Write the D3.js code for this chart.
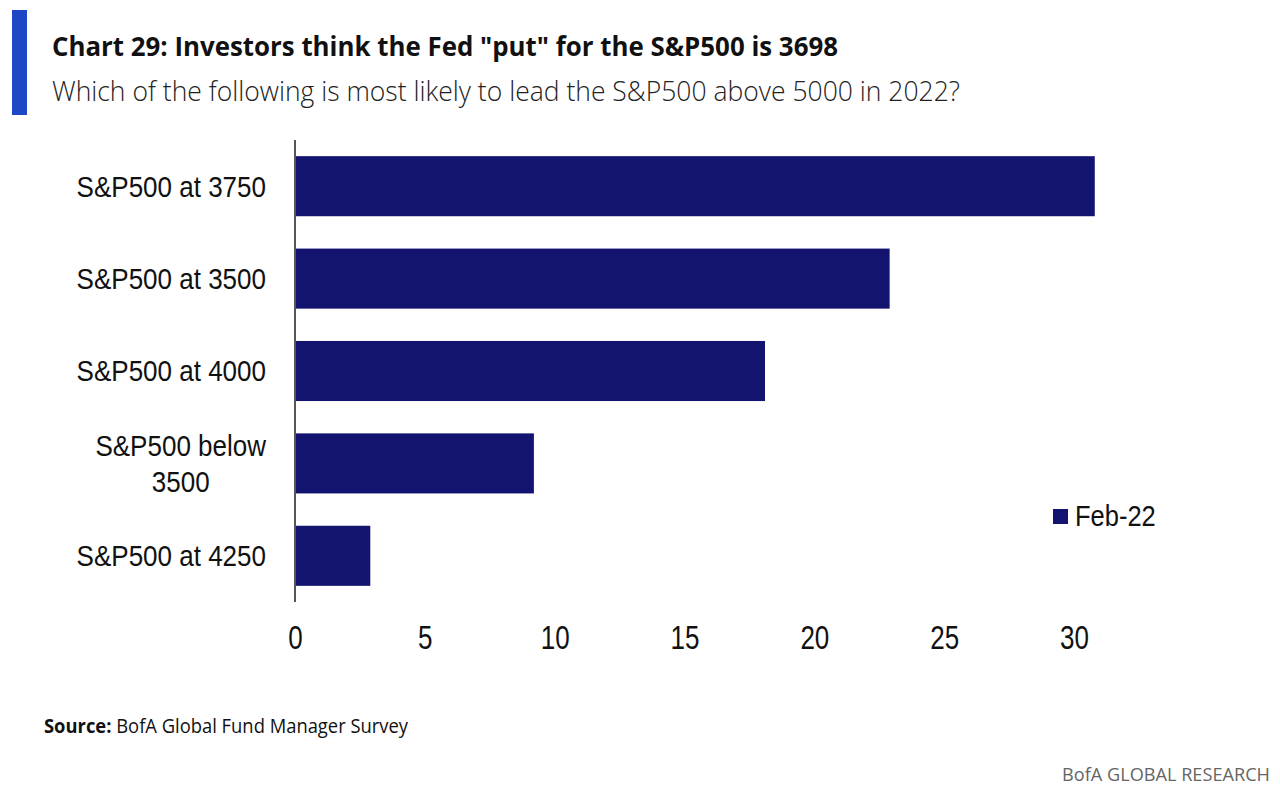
<!DOCTYPE html>
<html>
<head>
<meta charset="utf-8">
<script src="https://cdn.jsdelivr.net/npm/d3@7"></script>
<style>
  body { margin: 0; background: #fff; }
  svg { display: block; }
</style>
</head>
<body>
<div id="chart"></div>
<script>
// data
var categories = [["S&P500 at 3750"], ["S&P500 at 3500"], ["S&P500 at 4000"], ["S&P500 below", "3500"], ["S&P500 at 4250"]];
var values = [30.8, 22.9, 18.1, 9.2, 2.9];
var xTicks = [0, 5, 10, 15, 20, 25, 30];
var seriesName = "Feb-22";

var W = 1280, H = 791;
var barColor = "#13146f";
var axisFont = "'Liberation Sans', Arial, sans-serif";
var headFont = "'Open Sans', 'Noto Sans', sans-serif";

var svg = d3.select("#chart").append("svg")
    .attr("width", W)
    .attr("height", H);

// blue accent bar at left of header
svg.append("rect")
    .attr("x", 12).attr("y", 10)
    .attr("width", 15).attr("height", 105)
    .attr("fill", "#1e47c6");

svg.append("text")
    .attr("x", 52).attr("y", 56)
    .attr("font-family", headFont)
    .attr("font-weight", 700)
    .attr("font-size", 26)
    .attr("fill", "#111")
    .attr("textLength", 786).attr("lengthAdjust", "spacingAndGlyphs")
    .text('Chart 29: Investors think the Fed "put" for the S&P500 is 3698');

svg.append("text")
    .attr("x", 52).attr("y", 101)
    .attr("font-family", headFont)
    .attr("font-weight", 300)
    .attr("font-size", 28)
    .attr("fill", "#222")
    .attr("textLength", 908).attr("lengthAdjust", "spacingAndGlyphs")
    .text("Which of the following is most likely to lead the S&P500 above 5000 in 2022?");

// scales
var x = d3.scaleLinear().domain([0, 30]).range([295, 1074]);
var y = d3.scaleBand().domain(d3.range(categories.length)).range([140, 602]).paddingInner(0.35).paddingOuter(0.175);

// bars
svg.selectAll("rect.bar")
    .data(values)
    .enter().append("rect")
    .attr("class", "bar")
    .attr("x", x(0))
    .attr("y", function(d, i) { return y(i); })
    .attr("width", function(d) { return x(d) - x(0); })
    .attr("height", y.bandwidth())
    .attr("fill", barColor);

// vertical axis line
svg.append("line")
    .attr("x1", x(0)).attr("x2", x(0))
    .attr("y1", 140).attr("y2", 602)
    .attr("stroke", "#555").attr("stroke-width", 2);

// x tick labels (reference glyphs are tall and narrow, so stretch vertically)
var xAxis = d3.axisBottom(x).tickValues(xTicks).tickSize(0).tickPadding(0);
var gx = svg.append("g")
    .attr("transform", "translate(0,637)")
    .call(xAxis);
gx.select(".domain").remove();
gx.selectAll("text")
    .attr("y", 0)
    .attr("dy", "0.36em")
    .attr("transform", "scale(1,1.3)")
    .attr("font-family", axisFont)
    .attr("font-size", 26)
    .attr("fill", "#111");

// category labels, right aligned; multi-line blocks centered on their longest line
var labelRight = 266, lineH = 36, labelScale = 1.1;
categories.forEach(function(lines, i) {
    var cy = y(i) + y.bandwidth() / 2;
    var g = svg.append("g")
        .attr("transform", "translate(0," + cy + ") scale(1," + labelScale + ")");
    var texts = lines.map(function(s, k) {
        return g.append("text")
            .attr("font-family", axisFont)
            .attr("font-size", 26)
            .attr("fill", "#111")
            .attr("dy", "0.36em")
            .attr("y", (k - (lines.length - 1) / 2) * lineH / labelScale)
            .text(s);
    });
    var widths = texts.map(function(t) { return t.node().getComputedTextLength(); });
    var maxW = d3.max(widths);
    texts.forEach(function(t, k) {
        t.attr("x", labelRight - maxW / 2 - widths[k] / 2);
    });
});

// legend
svg.append("rect")
    .attr("x", 1053).attr("y", 509)
    .attr("width", 15).attr("height", 15)
    .attr("fill", barColor);
svg.append("text")
    .attr("transform", "translate(1075,515) scale(1,1.15)")
    .attr("dy", "0.36em")
    .attr("font-family", axisFont)
    .attr("font-size", 25.5)
    .attr("fill", "#111")
    .text(seriesName);

// source + footer
var src = svg.append("text")
    .attr("x", 44).attr("y", 733)
    .attr("font-family", headFont)
    .attr("font-size", 20)
    .attr("fill", "#111")
    .attr("textLength", 364).attr("lengthAdjust", "spacingAndGlyphs");
src.append("tspan").attr("font-weight", 700).text("Source:");
src.append("tspan").attr("font-weight", 400).text(" BofA Global Fund Manager Survey");

svg.append("text")
    .attr("x", 1062).attr("y", 781)
    .attr("font-family", headFont)
    .attr("font-size", 19)
    .attr("fill", "#666")
    .attr("textLength", 208).attr("lengthAdjust", "spacingAndGlyphs")
    .text("BofA GLOBAL RESEARCH");
</script>
</body>
</html>
